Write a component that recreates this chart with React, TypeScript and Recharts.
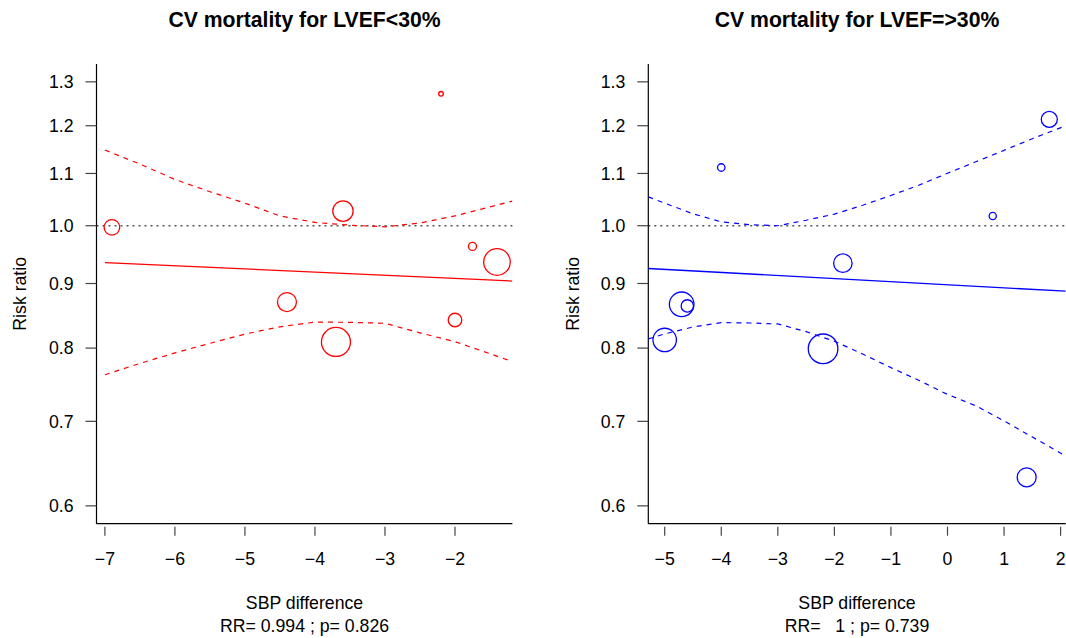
import React from "react";
import {
  ComposedChart,
  Scatter,
  XAxis,
  YAxis,
  ZAxis,
  ReferenceLine,
} from "recharts";

// ---- shared axis values ----
const rrTicks = [0.6, 0.7, 0.8, 0.9, 1.0, 1.1, 1.2, 1.3];
const rrDomain = [0.5808, 1.343];

// ---- panel 1: CV mortality for LVEF<30% ----
const sbpTicks1 = [-7, -6, -5, -4, -3, -2];
const sbpDomain1 = [-7.12, -1.18];
const studyX1 = [-6.9, -3.6, -2.2, -1.75, -1.4, -4.4, -3.7, -2.0];
const studyRR1 = [0.997, 1.027, 1.272, 0.963, 0.936, 0.87, 0.809, 0.842];
const studyW1 = [61, 104, 5.3, 16, 177, 90, 210, 46];
const fitX1 = [-7.0, -1.18];
const fitRR1 = [0.935, 0.904];
const bandX1 = [-7, -6.5, -6, -5.5, -5, -4.5, -4, -3.5, -3, -2.5, -2, -1.18];
const upperRR1 = [1.148, 1.119, 1.088, 1.064, 1.042, 1.018, 1.006, 1.001, 0.998, 1.005, 1.018, 1.046];
const lowerRR1 = [0.762, 0.778, 0.793, 0.807, 0.8207, 0.8317, 0.8389, 0.8385, 0.837, 0.8225, 0.8094, 0.7807];

// ---- panel 2: CV mortality for LVEF=>30% ----
const sbpTicks2 = [-5, -4, -3, -2, -1, 0, 1, 2];
const sbpDomain2 = [-5.29, 2.09];
const studyX2 = [-4.0, 1.8, 0.8, -1.85, -4.7, -4.6, -5.0, -2.2, 1.4];
const studyRR2 = [1.112, 1.214, 1.018, 0.934, 0.8665, 0.864, 0.812, 0.799, 0.632];
const studyW2 = [14, 64, 13, 85, 151, 38, 137, 219, 90];
const fitX2 = [-5.29, 2.09];
const fitRR2 = [0.925, 0.8875];
const bandX2 = [-5.29, -5, -4.5, -4, -3.5, -3, -2.5, -2, -1.5, -1, -0.5, 0, 0.5, 1, 1.5, 2.09];
const upperRR2 = [1.054, 1.042, 1.022, 1.007, 1.002, 1.0, 1.01, 1.0215, 1.038, 1.0567, 1.077, 1.1004, 1.1236, 1.1474, 1.172, 1.2];
const lowerRR2 = [0.8135, 0.821, 0.8314, 0.838, 0.8375, 0.836, 0.8244, 0.8101, 0.7914, 0.772, 0.7541, 0.7352, 0.7202, 0.7005, 0.6803, 0.657];

const FONT = '"Liberation Sans", Arial, Helvetica, sans-serif';

const zip = (xs: number[], ys: number[], ws?: number[]) =>
  xs.map((x, i) => ({ x, rr: ys[i], w: ws ? ws[i] : 0 }));

const minus = (v: number) => String(v).replace("-", "\u2212");

function OpenCircle(props: any) {
  const { cx, cy, width, color } = props;
  if (cx == null || cy == null) return <g />;
  return <circle cx={cx} cy={cy} r={width / 2} fill="none" stroke={color} strokeWidth={1.3} />;
}

const Hidden = () => <g />;

interface PanelProps {
  color: string;
  yAxisWidth: number;
  rightMargin: number;
  xDomain: number[];
  xTicks: number[];
  studies: { x: number; rr: number; w: number }[];
  fit: { x: number; rr: number }[];
  upper: { x: number; rr: number }[];
  lower: { x: number; rr: number }[];
}

function Panel({ color, yAxisWidth, rightMargin, xDomain, xTicks, studies, fit, upper, lower }: Props2) {
  return (
    <ComposedChart
      width={533}
      height={638}
      margin={{ top: 64, right: rightMargin, bottom: 74.3, left: 0 }}
    >
      <XAxis
        type="number"
        dataKey="x"
        domain={xDomain}
        ticks={xTicks}
        allowDataOverflow
        height={40}
        tickSize={9}
        tickMargin={20}
        tickFormatter={minus}
        axisLine={{ stroke: "#000", strokeWidth: 1.2 }}
        tickLine={{ stroke: "#444", strokeWidth: 1.2, transform: "translate(0,3)" }}
        tick={{ fontSize: 17.7, fill: "#000", fontFamily: FONT }}
        interval={0}
      />
      <YAxis
        type="number"
        dataKey="rr"
        scale="log"
        domain={rrDomain}
        ticks={rrTicks}
        allowDataOverflow
        width={yAxisWidth}
        tickSize={11}
        tickMargin={12}
        tickFormatter={(v: number) => v.toFixed(1)}
        axisLine={{ stroke: "#000", strokeWidth: 1.2 }}
        tickLine={{ stroke: "#444", strokeWidth: 1.2 }}
        tick={{ fontSize: 17.7, fill: "#000", fontFamily: FONT }}
        interval={0}
      />
      <ZAxis type="number" dataKey="w" domain={[0, 225]} range={[0, 225 * Math.PI]} />
      <ReferenceLine y={1} stroke="#555" strokeWidth={1.4} strokeDasharray="2 4" />
      <Scatter
        data={upper}
        isAnimationActive={false}
        shape={Hidden}
        line={{ stroke: color, strokeWidth: 1.2, strokeDasharray: "5 5" }}
      />
      <Scatter
        data={lower}
        isAnimationActive={false}
        shape={Hidden}
        line={{ stroke: color, strokeWidth: 1.2, strokeDasharray: "5 5" }}
      />
      <Scatter
        data={fit}
        isAnimationActive={false}
        shape={Hidden}
        line={{ stroke: color, strokeWidth: 1.3 }}
      />
      <Scatter
        data={studies}
        isAnimationActive={false}
        shape={(p: any) => <OpenCircle {...p} color={color} />}
      />
    </ComposedChart>
  );
}

type Props2 = PanelProps;

export default function App() {
  const txt = { fontFamily: FONT, fill: "#000" } as const;
  return (
    <div style={{ position: "absolute", left: 0, top: 0, width: 1066, height: 638, background: "#fff" }}>
      <div style={{ position: "absolute", left: 0, top: 0 }}>
        <Panel
          color="#ff0000"
          yAxisWidth={96.5}
          rightMargin={20.6}
          xDomain={sbpDomain1}
          xTicks={sbpTicks1}
          studies={zip(studyX1, studyRR1, studyW1)}
          fit={zip(fitX1, fitRR1)}
          upper={zip(bandX1, upperRR1)}
          lower={zip(bandX1, lowerRR1)}
        />
      </div>
      <div style={{ position: "absolute", left: 533, top: 0 }}>
        <Panel
          color="#0000ff"
          yAxisWidth={115.3}
          rightMargin={0.3}
          xDomain={sbpDomain2}
          xTicks={sbpTicks2}
          studies={zip(studyX2, studyRR2, studyW2)}
          fit={zip(fitX2, fitRR2)}
          upper={zip(bandX2, upperRR2)}
          lower={zip(bandX2, lowerRR2)}
        />
      </div>
      <svg
        width={1066}
        height={638}
        style={{ position: "absolute", left: 0, top: 0, pointerEvents: "none" }}
      >
        <text x={304.5} y={27.3} textAnchor="middle" fontSize={21.2} fontWeight="bold" {...txt}>
          CV mortality for LVEF&lt;30%
        </text>
        <text x={857} y={27.3} textAnchor="middle" fontSize={21.2} fontWeight="bold" {...txt}>
          CV mortality for LVEF=&gt;30%
        </text>
        <text x={26} y={293.8} textAnchor="middle" fontSize={17.7} transform="rotate(-90 26 293.8)" {...txt}>
          Risk ratio
        </text>
        <text x={579} y={293.8} textAnchor="middle" fontSize={17.7} transform="rotate(-90 579 293.8)" {...txt}>
          Risk ratio
        </text>
        <text x={304.5} y={609.3} textAnchor="middle" fontSize={17.7} {...txt}>
          SBP difference
        </text>
        <text x={304.5} y={631.7} textAnchor="middle" fontSize={17.7} style={{ whiteSpace: "pre" }} {...txt}>
          {"RR= 0.994 ; p= 0.826"}
        </text>
        <text x={857} y={609.3} textAnchor="middle" fontSize={17.7} {...txt}>
          SBP difference
        </text>
        <text x={857} y={631.7} textAnchor="middle" fontSize={17.7} style={{ whiteSpace: "pre" }} {...txt}>
          {"RR=   1 ; p= 0.739"}
        </text>
      </svg>
    </div>
  );
}
